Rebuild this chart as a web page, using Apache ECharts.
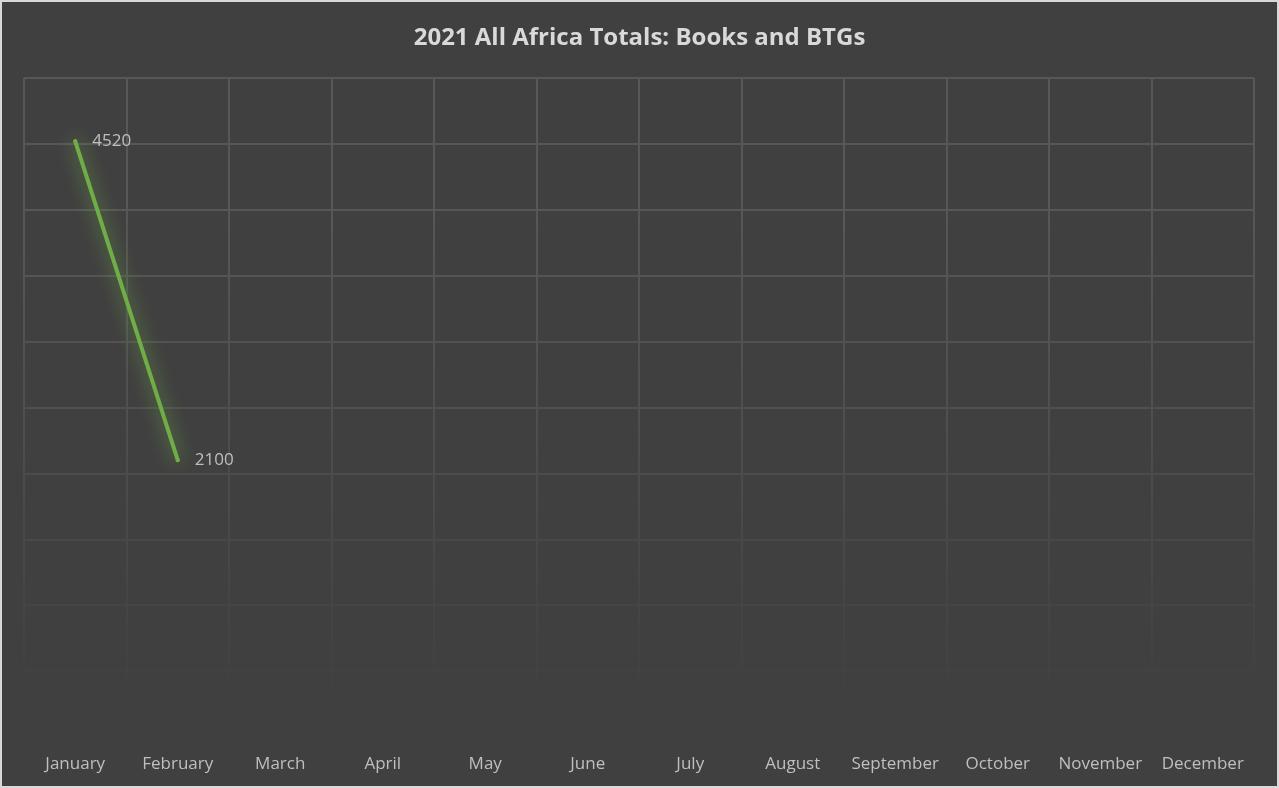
<!DOCTYPE html>
<html>
<head>
<meta charset="utf-8">
<script src="https://cdn.jsdelivr.net/npm/echarts@6/dist/echarts.min.js"></script>
<style>
html,body{margin:0;padding:0;background:#d9d9d9;}
#c{position:absolute;left:2px;top:2px;width:1275px;height:784px;background:#404040;}
</style>
</head>
<body>
<div id="c"></div>
<script>
const months = ['January','February','March','April','May','June','July','August','September','October','November','December'];
const totals = [4520, 2100, null, null, null, null, null, null, null, null, null, null];
const yMin = 0, yMax = 5000, yStep = 500;
const titleText = '2021 All Africa Totals: Books and BTGs';

const chart = echarts.init(document.getElementById('c'));
const font = '"Open Sans", "Noto Sans", sans-serif';
chart.setOption({
  backgroundColor: '#404040',
  animation: false,
  title: {
    text: titleText, left: 'center', top: 19,
    textStyle: {color: '#d9d9d9', fontSize: 24, fontWeight: 'bold', fontFamily: font}
  },
  grid: {left: 22, right: 23, top: 76, bottom: 49},
  xAxis: {
    type: 'category', data: months, boundaryGap: true,
    axisLine: {show: false}, axisTick: {show: false},
    axisLabel: {color: '#bfbfbf', fontSize: 17, fontFamily: font, margin: 19, interval: 0},
    splitLine: {show: true, interval: 0, lineStyle: {color: '#575757', width: 2}}
  },
  yAxis: {
    type: 'value', min: yMin, max: yMax, interval: yStep,
    axisLabel: {show: false}, axisLine: {show: false}, axisTick: {show: false},
    splitLine: {show: true, lineStyle: {color: '#575757', width: 2}}
  },
  series: [{
    type: 'line', data: totals, connectNulls: false,
    symbol: 'circle', symbolSize: 4,
    itemStyle: {color: '#70ad47'},
    lineStyle: {color: '#70ad47', width: 4, shadowColor: 'rgba(112,173,71,1)', shadowBlur: 18, cap: 'round'},
    label: {show: true, position: 'right', distance: 15, color: '#bfbfbf', fontSize: 17, fontFamily: font},
    z: 3
  }],
  graphic: [{
    type: 'rect', z: 1, silent: true,
    shape: {x: 0, y: 200, width: 1275, height: 540},
    style: {
      fill: new echarts.graphic.LinearGradient(0, 0, 0, 1, [
        {offset: 0, color: 'rgba(64,64,64,0)'},
        {offset: 0.4, color: 'rgba(64,64,64,0.35)'},
        {offset: 0.75, color: 'rgba(64,64,64,0.8)'},
        {offset: 0.93, color: 'rgba(64,64,64,1)'},
        {offset: 1, color: 'rgba(64,64,64,1)'}
      ])
    }
  }]
});
</script>
</body>
</html>
